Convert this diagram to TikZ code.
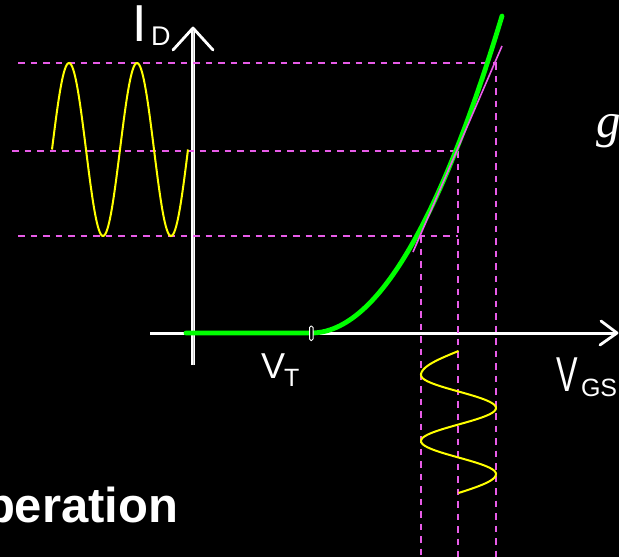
\documentclass[tikz,border=0pt]{standalone}
\usepackage{fontspec}
\setmainfont{Liberation Sans}
\newfontfamily\gfont{Liberation Serif}
\definecolor{guidemag}{RGB}{232,92,232}
\definecolor{wavey}{RGB}{255,255,0}
\definecolor{curveg}{RGB}{0,255,0}
\tikzset{
  guide/.style={draw=guidemag, line width=1.8pt, dash pattern=on 6.5pt off 6pt},
  axisline/.style={draw=white, line width=3pt},
  vaxis/.style={draw=white, double=gray!45, double distance=0.9pt, line width=1.3pt},
  chevron/.style={draw=white, line width=2.8pt, line cap=round, line join=round},
  wave/.style={draw=wavey, line width=2pt},
  idcurve/.style={draw=curveg, line width=4.8pt, line cap=round},
  tangentline/.style={draw=guidemag, line width=1.6pt},
  lbl/.style={text=white, inner sep=0pt, outer sep=0pt, anchor=base west},
}
\begin{document}
\begin{tikzpicture}[x=1pt,y=-1pt]
\fill[black] (0,0) rectangle (619,557);
\clip (0,0) rectangle (619,557);
% axes
\draw[axisline] (150,333) -- (617,333);
\draw[vaxis] (193,365) -- (193,29);
\draw[chevron] (173,50) -- (193,28) -- (213,50);
\draw[chevron] (601,321) -- (617,333) -- (600,345);
% guides
\draw[guide] (18,63) -- (497,63);
\draw[guide] (12,151) -- (458,151);
\draw[guide] (18,236) -- (458,236);
\draw[guide] (421,236) -- (421,557);
\draw[guide] (458,151) -- (458,557);
\draw[guide] (496,63) -- (496,557);
% input/output waves
\draw[wave] plot[domain=52:188, samples=160, variable=\t] (\t, {149.5 - 86.5*sin((\t-52)*5.2941)});
\draw[wave] plot[domain=351:375, samples=30, variable=\t] ({458.5 - 37.5*sin((\t-351)*3.75)}, \t)
  -- plot[domain=375:474, samples=120, variable=\t] ({458.5 - 37.5*cos((\t-375)*5.4545)}, \t)
  -- plot[domain=474:493, samples=30, variable=\t] ({458.5 + 37.5*cos((\t-474)*4.7368)}, \t);
% transfer curve
\draw[idcurve] (186,333) -- (311,333) -- plot[domain=311:502, samples=100, variable=\t] (\t, {333 - (0.09322*(\t-311))^2});
\draw[tangentline] (413,252) -- (502,46);
% threshold tick
\draw[white, line width=1pt, fill=black, rounded corners=1.5pt] (309.5,326) rectangle (313,340.5);
% labels
\node[lbl, font=\fontsize{52}{52}\selectfont] (id) at (132,41) {I};
\node[lbl, font=\fontsize{27}{27}\selectfont] (idsub) at (151,45) {D};
\node[lbl, font=\fontsize{49}{49}\selectfont] (vgs) at (556,391) {\scalebox{0.66}[1]{V}};
\node[lbl, font=\fontsize{25}{25}\selectfont] (vgssub) at (581,396) {GS};
\node[lbl, font=\fontsize{36}{36}\selectfont] (vt) at (261,378) {V};
\node[lbl, font=\fontsize{25}{25}\selectfont] (vtsub) at (284,386) {T};
\node[lbl, font=\gfont\itshape\fontsize{49}{49}\selectfont] (gm) at (596,137) {g};
\node[lbl, font=\bfseries\fontsize{49}{49}\selectfont] (op) at (-15,522) {peration};
\end{tikzpicture}
\end{document}
